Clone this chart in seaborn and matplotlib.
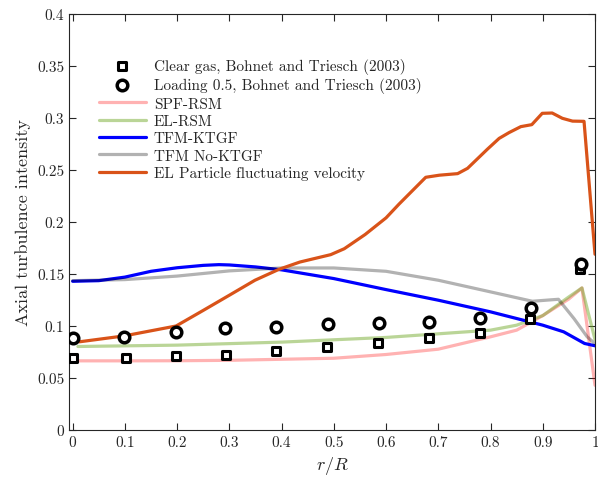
import seaborn as sns
import matplotlib.pyplot as plt

# experimental data (Bohnet and Triesch 2003)
r_clear = [0.001, 0.102, 0.198, 0.294, 0.39, 0.487, 0.584, 0.682, 0.779, 0.876, 0.972]
u_clear = [0.0688, 0.0694, 0.0707, 0.0723, 0.0761, 0.0797, 0.0838, 0.088, 0.0937, 0.1068, 0.155]
r_load = [0.001, 0.099, 0.198, 0.291, 0.39, 0.489, 0.586, 0.682, 0.779, 0.877, 0.973]
u_load = [0.0886, 0.0893, 0.094, 0.0982, 0.0995, 0.102, 0.1027, 0.104, 0.1075, 0.1177, 0.1596]

# simulations
r_spf = [0.01, 0.1, 0.2, 0.3, 0.4, 0.5, 0.6, 0.7, 0.8, 0.85, 0.9, 0.95, 0.975, 1.0]
u_spf = [0.0665, 0.0665, 0.0666, 0.0670, 0.0680, 0.069, 0.0726, 0.0777, 0.0896, 0.096, 0.110, 0.126, 0.1366, 0.043]
r_elrsm = [0.01, 0.2, 0.4, 0.6, 0.8, 0.85, 0.9, 0.95, 0.975, 1.0]
u_elrsm = [0.0803, 0.0816, 0.0845, 0.089, 0.096, 0.1008, 0.110, 0.128, 0.1366, 0.087]
r_ktgf = [0.0, 0.05, 0.1, 0.15, 0.2, 0.25, 0.28, 0.3, 0.35, 0.4, 0.5, 0.6, 0.7, 0.8, 0.9, 0.94, 0.98, 1.0]
u_ktgf = [0.143, 0.1436, 0.147, 0.1526, 0.156, 0.1583, 0.159, 0.1587, 0.1568, 0.154, 0.1456, 0.135,
          0.1248, 0.1136, 0.1008, 0.0944, 0.0832, 0.081]
r_noktgf = [0.0, 0.1, 0.2, 0.3, 0.4, 0.5, 0.6, 0.7, 0.8, 0.88, 0.93, 0.96, 0.985, 1.0]
u_noktgf = [0.1436, 0.1446, 0.148, 0.153, 0.1558, 0.1558, 0.1526, 0.144, 0.1328, 0.1238, 0.1257,
            0.107, 0.0896, 0.083]
r_elp = [0.013, 0.099, 0.198, 0.25, 0.30, 0.349, 0.395, 0.435, 0.494, 0.52, 0.56, 0.6, 0.625, 0.676,
         0.702, 0.737, 0.756, 0.794, 0.8165, 0.8356, 0.858, 0.879, 0.899, 0.918, 0.9375, 0.957,
         0.979, 1.0]
u_elp = [0.0848, 0.0905, 0.100, 0.115, 0.1296, 0.144, 0.1545, 0.1615, 0.1686, 0.1743, 0.188, 0.204,
         0.2173, 0.243, 0.245, 0.2465, 0.2516, 0.270, 0.2804, 0.286, 0.2917, 0.2936, 0.3045, 0.3048,
         0.2997, 0.297, 0.2968, 0.169]

sns.set_style("ticks")
plt.rcParams["font.family"] = "serif"
plt.rcParams["font.serif"] = ["cmr10", "DejaVu Serif"]
plt.rcParams["mathtext.fontset"] = "cm"
plt.rcParams["axes.unicode_minus"] = False
plt.rcParams["axes.formatter.use_mathtext"] = True

fig = plt.figure(figsize=(5.98, 4.81), dpi=100)
ax = fig.add_axes([69 / 598, 1 - 431 / 481, 526 / 598, 416 / 481])

lw = 2.3
h1 = ax.scatter(r_clear, u_clear, marker="s", s=28, facecolor="white", edgecolor="black",
                linewidth=2.2, zorder=5, label="Clear gas, Bohnet and Triesch (2003)")
h2 = ax.scatter(r_load, u_load, marker="o", s=58, facecolor="white", edgecolor="black",
                linewidth=2.5, zorder=5, label="Loading 0.5, Bohnet and Triesch (2003)")
sns.lineplot(x=r_spf, y=u_spf, ax=ax, color="red", alpha=0.3, lw=lw, sort=False, label="SPF-RSM")
sns.lineplot(x=r_elrsm, y=u_elrsm, ax=ax, color="#77AC30", alpha=0.5, lw=lw, sort=False, label="EL-RSM")
sns.lineplot(x=r_ktgf, y=u_ktgf, ax=ax, color="blue", lw=lw, sort=False, label="TFM-KTGF")
sns.lineplot(x=r_noktgf, y=u_noktgf, ax=ax, color="black", alpha=0.3, lw=lw, sort=False,
             label="TFM No-KTGF")
sns.lineplot(x=r_elp, y=u_elp, ax=ax, color="#D95319", lw=lw, sort=False,
             label="EL Particle fluctuating velocity")

handles, labels = ax.get_legend_handles_labels()
ax.legend(handles, labels, loc="upper left", bbox_to_anchor=(0.045, 0.91), frameon=False,
          fontsize=11, handlelength=3.1, labelspacing=0.24, borderaxespad=0, handletextpad=0.5)

ax.set_xlim(-0.007, 1.0)
ax.set_ylim(0, 0.4)
ax.set_xticks([0, 0.1, 0.2, 0.3, 0.4, 0.5, 0.6, 0.7, 0.8, 0.9, 1])
ax.set_xticklabels(["0", "0.1", "0.2", "0.3", "0.4", "0.5", "0.6", "0.7", "0.8", "0.9", "1"])
ax.set_yticks([0, 0.05, 0.1, 0.15, 0.2, 0.25, 0.3, 0.35, 0.4])
ax.set_yticklabels(["0", "0.05", "0.1", "0.15", "0.2", "0.25", "0.3", "0.35", "0.4"])
ax.tick_params(direction="in", top=True, right=True, labelsize=11, length=5, width=0.8)
for s in ax.spines.values():
    s.set_linewidth(0.8)
    s.set_color("#262626")
ax.set_xlabel(r"$r/R$", fontsize=13)
ax.set_ylabel("Axial turbulence intensity", fontsize=13)

fig.savefig("out.png", dpi=100)
